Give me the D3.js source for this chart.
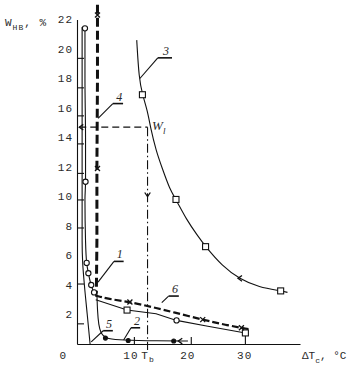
<!DOCTYPE html>
<html>
<head>
<meta charset="utf-8">
<script src="https://cdn.jsdelivr.net/npm/d3@7"></script>
<style>
body { margin: 0; background: #fff; }
text { font-family: "Liberation Mono", "DejaVu Sans Mono", monospace; fill: #2a2a2a; }
.lbl { font-size: 11px; letter-spacing: 1px; }
.ttl { font-size: 11px; }
.num { font-family: "Liberation Serif", serif; font-style: italic; font-size: 12px; }
.thin { fill: none; stroke: #111; stroke-width: 1.1; }
</style>
</head>
<body>
<div id="chart"></div>
<script>
var w = 351;
var h = 376;

// values: x = dT_c (deg C), y = W_nv (%)
var yLabels = [2, 4, 6, 8, 10, 12, 14, 16, 18, 20, 22];
var xLabels = [0, 10, 20, 30];
var yTickMarks = [19.4, 17.4, 15.5, 13.6, 11.6, 9.8, 7.9, 4.1, 1.4];
var xTickMarks = [10, 20];

var curve1 = [[1.4, 21.4], [1.4, 18], [1.5, 14], [1.5, 11], [1.4, 9.8], [1.5, 7], [1.7, 5.5], [2.0, 4.8], [2.5, 4.0], [3.0, 3.5], [3.6, 3.2]];
var curve1Pts = [[1.4, 21.4], [1.5, 11], [1.7, 5.5], [2.0, 4.8], [2.5, 4.0], [3.0, 3.5]];

var curve2 = [[3.5, 3.4], [3.6, 2.2], [3.8, 1.3], [4.2, 0.7], [5.0, 0.4], [7, 0.27], [12, 0.22], [19.5, 0.2]];
var curve2Pts = [[5.0, 0.4], [9.0, 0.24], [17.0, 0.2]];

var curve3 = [[10.5, 20.6], [10.9, 18.0], [11.5, 16.9], [12.4, 15.8], [12.9, 14.7], [13.9, 13.1], [15.0, 11.9], [16.3, 10.5], [17.4, 9.8], [19.3, 8.4], [21.1, 7.4], [22.6, 6.6], [25.5, 5.3], [28.6, 4.4], [32, 3.85], [35.8, 3.6], [37.0, 3.5]];
var curve3Pts = [[11.5, 16.9], [17.4, 9.8], [22.6, 6.6], [35.8, 3.6]];

var curve4 = [[3.6, 23.0], [3.6, 18], [3.5, 12], [3.5, 7], [3.4, 3.4]];
var curve4Pts = [[3.6, 22.3], [3.6, 11.9]];

var curve5 = [[0.9, 21.5], [0.9, 12], [0.9, 7], [1.0, 5.5], [1.3, 4.0], [1.8, 2.0], [2.3, 0]];

var curve6 = [[3.2, 3.3], [5.5, 3.05], [9.3, 2.85], [13.3, 2.5], [17, 2.15], [22.1, 1.65], [26, 1.3], [30.3, 1.0]];
var curve6Pts = [[9.3, 2.85], [22.1, 1.65], [28.9, 1.1]];

var curve7 = [[3.3, 3.0], [8.8, 2.3], [13.9, 2.05], [17.5, 1.6], [23, 1.2], [29.6, 0.75]];
var curve7Sq = [[8.8, 2.3], [29.6, 0.75]];
var curve7Circ = [[17.5, 1.6]];

// W_l construction
var wl = [12.4, 14.7];

// curve number labels: [text, textX, textY, leaderFromX, leaderFromY, underlineX0, underlineX1, underlineY]
var curveLabels = [
    ["3", 15.1, 19.6, 11.05, 18.0, 14.2, 16.7, 19.4],
    ["4", 6.9, 16.5, 3.7, 15.3, 6.3, 8.1, 16.3],
    ["1", 7.0, 5.8, 3.7, 4.2, 6.5, 8.2, 5.6],
    ["5", 5.1, 1.1, 2.5, 0.14, 4.6, 6.3, 0.9],
    ["2", 10.0, 1.3, 8.2, 0.27, 9.5, 11.1, 1.1],
    ["6", 16.7, 3.45, 14.9, 2.8, 16.1, 17.9, 3.25]
];

var svg = d3.select("#chart").append("svg").attr("width", w).attr("height", h);
svg.append("rect").attr("width", w).attr("height", h).attr("fill", "#fff");

var xScale = d3.scaleLinear().domain([0, 39.2]).range([77, 300]);
var yScale = d3.scaleLinear().domain([0, 22]).range([344, 19.5]);

var line = d3.line()
    .x(function (d) { return xScale(d[0]); })
    .y(function (d) { return yScale(d[1]); });
var smooth = d3.line()
    .x(function (d) { return xScale(d[0]); })
    .y(function (d) { return yScale(d[1]); })
    .curve(d3.curveMonotoneY);
var smoothX = d3.line()
    .x(function (d) { return xScale(d[0]); })
    .y(function (d) { return yScale(d[1]); })
    .curve(d3.curveBasis);

//********** axes **********
var yAxis = d3.axisRight(yScale).tickValues(yTickMarks).tickSize(7).tickSizeOuter(0).tickFormat("");
svg.append("g").attr("transform", "translate(" + xScale(0) + ",0)").call(yAxis);
var xAxis = d3.axisTop(xScale).tickValues(xTickMarks).tickSize(7).tickSizeOuter(0).tickFormat("");
svg.append("g").attr("transform", "translate(0," + yScale(0) + ")").call(xAxis);
svg.selectAll(".domain, .tick line").attr("stroke", "#111").attr("stroke-width", 1.1);

svg.selectAll(".ylab").data(yLabels).enter().append("text")
    .attr("class", "lbl")
    .attr("x", xScale(0) - 4)
    .attr("y", function (d) { return yScale(d); })
    .attr("dy", "0.35em")
    .attr("text-anchor", "end")
    .text(function (d) { return d; });

svg.selectAll(".xlab").data(xLabels).enter().append("text")
    .attr("class", "lbl")
    .attr("x", function (d) { return d === 0 ? xScale(0) - 10 : xScale(d) - 3; })
    .attr("y", yScale(0) + 15)
    .attr("text-anchor", function (d) { return d === 0 ? "end" : "middle"; })
    .text(function (d) { return d; });

// axis titles
var yt = svg.append("text").attr("class", "lbl").attr("x", 5).attr("y", 26);
yt.append("tspan").text("W");
yt.append("tspan").attr("dy", 4).style("font-size", "8px").text("НВ");
yt.append("tspan").attr("dy", -4).text(", %");

var xt = svg.append("text").attr("class", "ttl").attr("x", 302).attr("y", yScale(0) + 15);
xt.append("tspan").text("ΔT");
xt.append("tspan").attr("dy", 4).style("font-size", "8px").text("c");
xt.append("tspan").attr("dy", -4).text(", °C");

//********** curves **********
svg.append("path").datum(curve5).attr("class", "thin").attr("d", smooth);
svg.append("path").datum(curve1).attr("class", "thin").attr("d", smooth);
svg.append("path").datum(curve2).attr("class", "thin").attr("d", smoothX);
svg.append("path").datum(curve3).attr("class", "thin").attr("d", smoothX);
svg.append("path").datum(curve7).attr("class", "thin").attr("d", line);

svg.append("path").datum(curve4)
    .attr("fill", "none").attr("stroke", "#111").attr("stroke-width", 3)
    .attr("stroke-dasharray", "9,4").attr("d", line);
svg.append("path").datum(curve6)
    .attr("fill", "none").attr("stroke", "#111").attr("stroke-width", 2.2)
    .attr("stroke-dasharray", "7,3").attr("d", smoothX);

// drop line at the last point of the lower curve
svg.append("line").attr("class", "thin")
    .attr("x1", xScale(29.6)).attr("x2", xScale(29.6))
    .attr("y1", yScale(0.75)).attr("y2", yScale(0));

//********** markers **********
function squares(pts) {
    svg.selectAll(null).data(pts).enter().append("rect")
        .attr("x", function (d) { return xScale(d[0]) - 3; })
        .attr("y", function (d) { return yScale(d[1]) - 3; })
        .attr("width", 6).attr("height", 6)
        .attr("fill", "#fff").attr("stroke", "#111").attr("stroke-width", 1.1);
}
function circles(pts, filled) {
    svg.selectAll(null).data(pts).enter().append("circle")
        .attr("cx", function (d) { return xScale(d[0]); })
        .attr("cy", function (d) { return yScale(d[1]); })
        .attr("r", filled ? 2 : 2.6)
        .attr("fill", filled ? "#111" : "#fff").attr("stroke", "#111").attr("stroke-width", 1.1);
}
function crosses(pts) {
    svg.selectAll(null).data(pts).enter().append("path")
        .attr("d", function (d) {
            var x = xScale(d[0]), y = yScale(d[1]);
            return "M" + (x - 2.5) + "," + (y - 2.5) + "L" + (x + 2.5) + "," + (y + 2.5) +
                "M" + (x - 2.5) + "," + (y + 2.5) + "L" + (x + 2.5) + "," + (y - 2.5);
        })
        .attr("stroke", "#111").attr("stroke-width", 1.3);
}
squares(curve3Pts);
squares(curve7Sq);
circles(curve7Circ, false);
circles(curve1Pts, false);
circles(curve2Pts, true);
crosses(curve4Pts);
crosses(curve6Pts);

// little direction arrows on the curves
function arrow(x, y, dir) {
    var px = xScale(x), py = yScale(y), s = 4;
    var d;
    if (dir === "left") d = "M" + (px + s) + "," + (py - s * 0.7) + "L" + px + "," + py + "L" + (px + s) + "," + (py + s * 0.7);
    if (dir === "down") d = "M" + (px - s * 0.7) + "," + (py - s) + "L" + px + "," + py + "L" + (px + s * 0.7) + "," + (py - s);
    svg.append("path").attr("d", d).attr("fill", "none").attr("stroke", "#111").attr("stroke-width", 1.3);
}
arrow(17.8, 0.2, "left");
arrow(28.3, 4.45, "left");

//********** W_l construction **********
svg.append("line")
    .attr("x1", xScale(0.4)).attr("x2", xScale(wl[0]))
    .attr("y1", yScale(wl[1])).attr("y2", yScale(wl[1]))
    .attr("stroke", "#111").attr("stroke-width", 1.2).attr("stroke-dasharray", "7,4");
arrow(0.4, wl[1], "left");
svg.append("line")
    .attr("x1", xScale(wl[0])).attr("x2", xScale(wl[0]))
    .attr("y1", yScale(wl[1])).attr("y2", yScale(-0.4))
    .attr("stroke", "#111").attr("stroke-width", 1.1).attr("stroke-dasharray", "9,3,1.5,3");
arrow(wl[0], 10.0, "down");

var wt = svg.append("text").attr("x", xScale(13.2)).attr("y", yScale(14.5))
    .style("font-family", "Liberation Serif, serif").style("font-style", "italic").style("font-size", "13px");
wt.append("tspan").text("W");
wt.append("tspan").attr("dy", 4).style("font-size", "9px").text("l");

var tb = svg.append("text").attr("class", "lbl").attr("x", xScale(11.3)).attr("y", yScale(0) + 15);
tb.append("tspan").text("T");
tb.append("tspan").attr("dy", 3).style("font-size", "8px").text("b");

//********** curve numbers **********
curveLabels.forEach(function (c) {
    svg.append("line").attr("class", "thin")
        .attr("x1", xScale(c[3])).attr("y1", yScale(c[4]))
        .attr("x2", xScale(c[5])).attr("y2", yScale(c[7]));
    svg.append("line").attr("stroke", "#111").attr("stroke-width", 1.6)
        .attr("x1", xScale(c[5])).attr("x2", xScale(c[6]))
        .attr("y1", yScale(c[7])).attr("y2", yScale(c[7]));
    svg.append("text").attr("class", "num")
        .attr("x", xScale(c[1])).attr("y", yScale(c[2]))
        .text(c[0]);
});
</script>
</body>
</html>
